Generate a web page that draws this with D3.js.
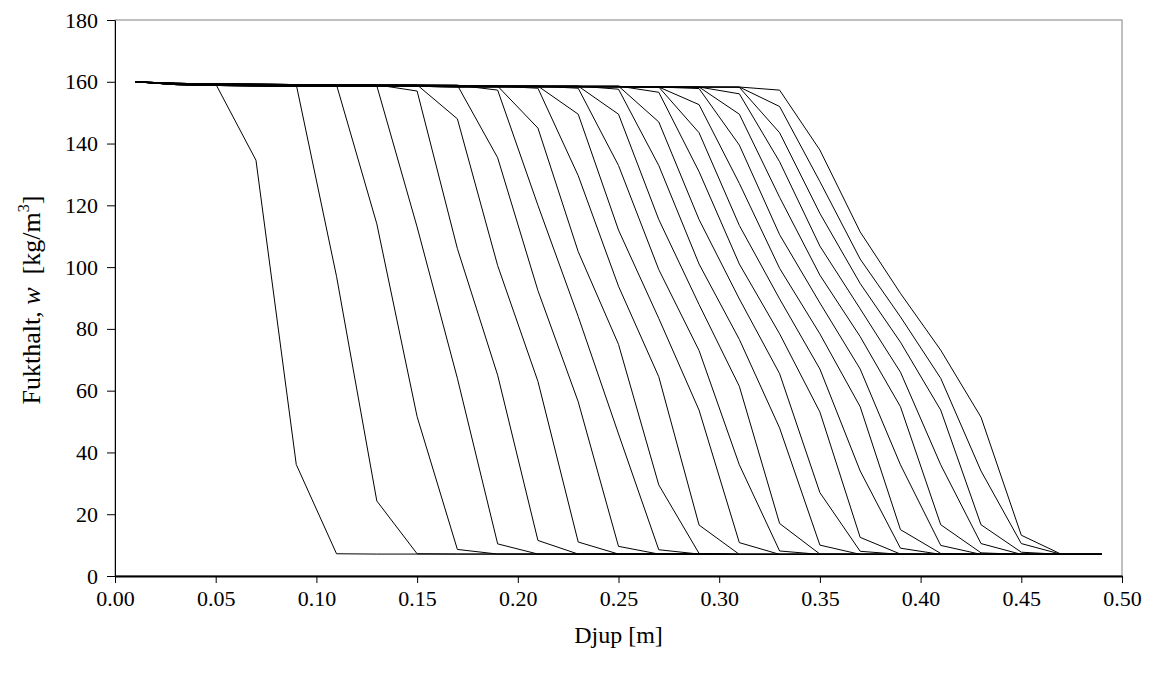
<!DOCTYPE html>
<html>
<head>
<meta charset="utf-8">
<script src="https://cdn.jsdelivr.net/npm/d3@7"></script>
<style>
  html, body { margin: 0; padding: 0; background: #fff; }
  svg { display: block; }
</style>
</head>
<body>
<svg id="chart" width="1154" height="677"></svg>
<script>
// Depth nodes [m]
const depth = [0.01,0.03,0.05,0.07,0.09,0.11,0.13,0.15,0.17,0.19,0.21,0.23,0.25,0.27,0.29,0.31,0.33,0.35,0.37,0.39,0.41,0.43,0.45,0.47,0.49];

// Moisture content profiles w [kg/m3], one per time step
const t01 = [160,159.5,159.3,134.6,36.1,7.2,7.1,7.1,7.1,7.1,7.1,7.1,7.1,7.1,7.1,7.0,7.0,7.0,7.0,7.0,7.0,7.0,7.0,7.0,7.0];
const t02 = [160,159.5,159.3,159.2,159.1,97,24.3,7.2,7.1,7.1,7.1,7.1,7.1,7.1,7.1,7.0,7.0,7.0,7.0,7.0,7.0,7.0,7.0,7.0,7.0];
const t03 = [160,159.5,159.3,159.2,159.1,159.0,114,51.6,8.6,7.1,7.1,7.1,7.1,7.1,7.1,7.0,7.0,7.0,7.0,7.0,7.0,7.0,7.0,7.0,7.0];
const t04 = [160,159.5,159.3,159.2,159.1,159.0,158.7,113,64,10.4,7.1,7.1,7.1,7.1,7.1,7.0,7.0,7.0,7.0,7.0,7.0,7.0,7.0,7.0,7.0];
const t05 = [160,159.5,159.3,159.2,159.1,159.0,159.0,157,106,65,11.5,7.1,7.1,7.1,7.1,7.0,7.0,7.0,7.0,7.0,7.0,7.0,7.0,7.0,7.0];
const t06 = [160,159.5,159.3,159.2,159.1,159.0,159.0,159.0,148,100.5,63,11,7.1,7.1,7.1,7.0,7.0,7.0,7.0,7.0,7.0,7.0,7.0,7.0,7.0];
const t07 = [160,159.5,159.3,159.2,159.1,159.0,159.0,159.0,158.9,135.4,92.4,56.4,9.6,7.1,7.1,7.0,7.0,7.0,7.0,7.0,7.0,7.0,7.0,7.0,7.0];
const t08 = [160,159.5,159.3,159.2,159.1,159.0,159.0,159.0,158.9,157.3,120,84,46,8.5,7.1,7.0,7.0,7.0,7.0,7.0,7.0,7.0,7.0,7.0,7.0];
const t09 = [160,159.3,159.0,158.9,158.8,158.7,158.7,158.7,158.6,158.6,145,105,75,29.5,7.3,7.0,7.0,7.0,7.0,7.0,7.0,7.0,7.0,7.0,7.0];
const t10 = [160,159.3,159.0,158.9,158.8,158.7,158.7,158.7,158.6,158.6,157.9,129.6,93.8,64.5,16.5,7.0,7.0,7.0,7.0,7.0,7.0,7.0,7.0,7.0,7.0];
const t11 = [160,159.3,159.0,158.9,158.8,158.7,158.7,158.7,158.6,158.6,158.6,149.5,112,83.4,53.7,10.8,7.0,7.0,7.0,7.0,7.0,7.0,7.0,7.0,7.0];
const t12 = [160,159.3,159.0,158.9,158.8,158.7,158.7,158.7,158.6,158.6,158.6,157.9,132.9,99.2,73,36,8.1,7.0,7.0,7.0,7.0,7.0,7.0,7.0,7.0];
const t13 = [160,159.3,159.0,158.9,158.8,158.7,158.7,158.7,158.6,158.6,158.6,158.6,149.5,115.4,87.9,61.4,17,7.1,7.0,7.0,7.0,7.0,7.0,7.0,7.0];
const t14 = [160,159.3,159.0,158.9,158.8,158.7,158.7,158.7,158.6,158.6,158.6,158.6,157.6,132.9,101,76.6,47.9,10,7.0,7.0,7.0,7.0,7.0,7.0,7.0];
const t15 = [160,159.3,159.0,158.9,158.8,158.7,158.7,158.7,158.6,158.6,158.6,158.6,158.6,147,115.4,89.7,65.5,27,8.0,7.0,7.0,7.0,7.0,7.0,7.0];
const t16 = [160,159.3,159.0,158.9,158.8,158.7,158.7,158.7,158.6,158.6,158.6,158.6,158.6,156.6,130.9,101,78.4,53.1,12.5,7.1,7.0,7.0,7.0,7.0,7.0];
const t17 = [160,159.1,158.8,158.7,158.6,158.5,158.5,158.5,158.4,158.4,158.4,158.4,158.4,158.3,143.5,113.5,89.7,67,34,9.0,7.0,7.0,7.0,7.0,7.0];
const t18 = [160,159.1,158.8,158.7,158.6,158.5,158.5,158.5,158.4,158.4,158.4,158.4,158.4,158.3,152.6,127.1,99.6,78.4,54.8,15,7.3,7.0,7.0,7.0,7.0];
const t19 = [160,159.1,158.8,158.7,158.6,158.5,158.5,158.5,158.4,158.4,158.4,158.4,158.4,158.3,157.8,139.5,110.5,88.4,67,36,9.9,7.0,7.0,7.0,7.0];
const t20 = [160,159.1,158.8,158.7,158.6,158.5,158.5,158.5,158.4,158.4,158.4,158.4,158.4,158.3,158.3,149.5,122.6,97.4,77.5,54.8,16.6,7.5,7.0,7.0,7.0];
const t21 = [160,159.1,158.8,158.7,158.6,158.5,158.5,158.5,158.4,158.4,158.4,158.4,158.4,158.3,158.3,156.1,134.1,106.8,86.5,66,36,10.5,7.0,7.0,7.0];
const t22 = [160,159.1,158.8,158.7,158.6,158.5,158.5,158.5,158.4,158.4,158.4,158.4,158.4,158.3,158.3,158.2,143.5,117.4,94.7,75.7,53.7,16.6,7.7,7.0,7.0];
const t23 = [160,159.1,158.8,158.7,158.6,158.5,158.5,158.5,158.4,158.4,158.4,158.4,158.4,158.3,158.3,158.3,152,127.7,102.6,83.9,64,34,10.5,7.0,7.0];
const t24 = [160,159.1,158.8,158.7,158.6,158.5,158.5,158.5,158.4,158.4,158.4,158.4,158.4,158.3,158.3,158.3,157.3,137.9,111.4,91.5,73.1,51.4,13.2,7.0,7.0];

const profiles = [t01,t02,t03,t04,t05,t06,t07,t08,t09,t10,t11,t12,t13,t14,t15,t16,t17,t18,t19,t20,t21,t22,t23,t24];

// Axis ticks and titles
const xTicks = [0,0.05,0.10,0.15,0.20,0.25,0.30,0.35,0.40,0.45,0.50];
const yTicks = [0,20,40,60,80,100,120,140,160,180];
const xTitle = "Djup [m]";

const svg = d3.select("#chart");
const L = 115, R = 1122, T = 20, B = 576;
const x = d3.scaleLinear().domain([0, 0.5]).range([L, R]);
const y = d3.scaleLinear().domain([0, 180]).range([B, T]);
const font = '"Liberation Serif", "Times New Roman", serif';

// plot frame
svg.append("rect")
  .attr("x", L).attr("y", T).attr("width", R - L).attr("height", B - T)
  .attr("fill", "none").attr("stroke", "#808080").attr("stroke-width", 1);

// lines
const line = d3.line().x((d, i) => x(depth[i])).y(d => y(d));
svg.append("g").selectAll("path").data(profiles).join("path")
  .attr("d", line)
  .attr("fill", "none")
  .attr("stroke", "#000")
  .attr("stroke-width", 1)
  .attr("stroke-linejoin", "miter");

// axes
const xAxis = d3.axisBottom(x).tickValues(xTicks).tickFormat(d3.format(".2f")).tickSize(7).tickSizeOuter(0).tickPadding(7);
const gx = svg.append("g").attr("transform", `translate(0,${B})`).call(xAxis);
gx.select(".domain").attr("stroke", "#000").attr("stroke-width", 2);
gx.selectAll(".tick line").attr("stroke", "#000");
gx.selectAll(".tick text").attr("font-family", font).attr("font-size", 22).attr("fill", "#000");

const yAxis = d3.axisLeft(y).tickValues(yTicks).tickFormat(d3.format("d")).tickSize(8).tickSizeOuter(0).tickPadding(9);
const gy = svg.append("g").attr("transform", `translate(${L},0)`).call(yAxis);
gy.select(".domain").attr("stroke", "#000").attr("stroke-width", 1);
gy.selectAll(".tick line").attr("stroke", "#000");
gy.selectAll(".tick text").attr("font-family", font).attr("font-size", 22).attr("fill", "#000");

// x title
svg.append("text")
  .attr("x", (L + R) / 2).attr("y", 643)
  .attr("text-anchor", "middle")
  .attr("font-family", font).attr("font-size", 24)
  .text(xTitle);

// y title
const yt = svg.append("text")
  .attr("transform", `translate(40,${(T + B) / 2 + 2}) rotate(-90)`)
  .attr("text-anchor", "middle")
  .attr("font-family", font).attr("font-size", 26)
  .attr("xml:space", "preserve");
yt.append("tspan").text("Fukthalt,\u00A0");
yt.append("tspan").attr("font-style", "italic").text("w");
yt.append("tspan").text("\u00A0\u00A0[kg/m");
yt.append("tspan").attr("font-size", 16).attr("dy", -11).text("3");
yt.append("tspan").attr("dy", 11).text("]");
</script>
</body>
</html>
